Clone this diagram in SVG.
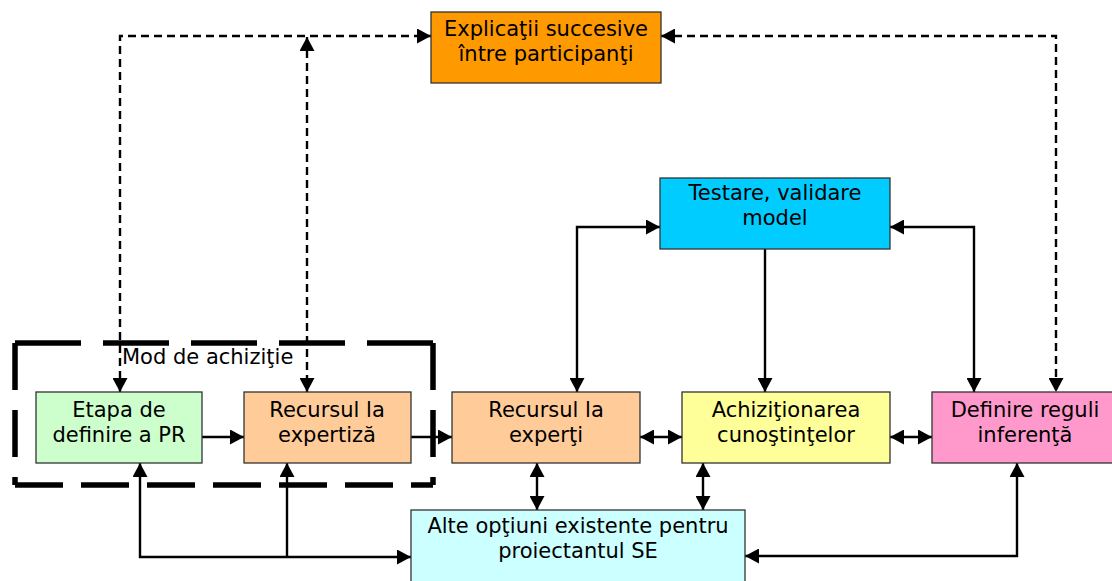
<svg xmlns="http://www.w3.org/2000/svg" width="1112" height="581" viewBox="0 0 1112 581">
  <style>
    .box { stroke: #333333; stroke-width: 1.3; }
    .lbl { font-family: "DejaVu Sans", Verdana, sans-serif; font-size: 21px; fill: #000000; text-anchor: middle; }
    .solid { fill: none; stroke: #000000; stroke-width: 2.4; }
    .dash { fill: none; stroke: #000000; stroke-width: 2.4; stroke-dasharray: 8 5; }
    .frame { fill: none; stroke: #000000; stroke-width: 5.5; }
  </style>
  <defs>
    <marker id="arrow" markerUnits="userSpaceOnUse" markerWidth="15" markerHeight="15" refX="14" refY="7.5" orient="auto-start-reverse">
      <path d="M0,0 L14,7.5 L0,15 z" fill="#000000"/>
    </marker>
  </defs>

  <rect width="1112" height="581" fill="#ffffff"/>

  <!-- acquisition-mode frame -->
  <g id="mod-achizitie">
    <path class="frame" d="M15,343 H433" stroke-dasharray="66 22"/>
    <path class="frame" d="M15,485 H433" stroke-dasharray="48 18"/>
    <path class="frame" d="M15,343 V485" stroke-dasharray="47 20"/>
    <path class="frame" d="M433,343 V485" stroke-dasharray="47 20"/>
    <text class="lbl" x="122" y="364" style="text-anchor:start">Mod de achiziţie</text>
  </g>

  <!-- connectors -->
  <g id="connectors">
    <path class="dash" d="M120,392 V36 H431" marker-start="url(#arrow)" marker-end="url(#arrow)"/>
    <path class="dash" d="M307,37 V392" marker-start="url(#arrow)" marker-end="url(#arrow)"/>
    <path class="dash" d="M661,36 H1056 V392" marker-start="url(#arrow)" marker-end="url(#arrow)"/>

    <path class="solid" d="M577,392 V227 H660" marker-start="url(#arrow)" marker-end="url(#arrow)"/>
    <path class="solid" d="M890,227 H974 V392" marker-start="url(#arrow)" marker-end="url(#arrow)"/>
    <path class="solid" d="M765,249 V392" marker-end="url(#arrow)"/>

    <path class="solid" d="M202,437 H244" marker-end="url(#arrow)"/>
    <path class="solid" d="M411,437 H452" marker-end="url(#arrow)"/>
    <path class="solid" d="M640,437 H682" marker-start="url(#arrow)" marker-end="url(#arrow)"/>
    <path class="solid" d="M890,437 H932" marker-start="url(#arrow)" marker-end="url(#arrow)"/>

    <path class="solid" d="M537,463 V510" marker-start="url(#arrow)" marker-end="url(#arrow)"/>
    <path class="solid" d="M703,463 V510" marker-start="url(#arrow)" marker-end="url(#arrow)"/>

    <path class="solid" d="M1017,463 V556 H745" marker-start="url(#arrow)" marker-end="url(#arrow)"/>
    <path class="solid" d="M140,463 V557 H411" marker-start="url(#arrow)" marker-end="url(#arrow)"/>
    <path class="solid" d="M287,557 V463" marker-end="url(#arrow)"/>
  </g>

  <g id="explicatii">
    <rect class="box" x="431" y="12" width="230" height="71" fill="#FF9900" stroke="#4d3300"/>
    <text class="lbl" x="546" y="36">Explicaţii succesive</text>
    <text class="lbl" x="546" y="61">între participanţi</text>
  </g>

  <g id="testare">
    <rect class="box" x="660" y="178" width="230" height="71" fill="#00CCFF"/>
    <text class="lbl" x="775" y="200">Testare, validare</text>
    <text class="lbl" x="775" y="225">model</text>
  </g>

  <g id="etapa">
    <rect class="box" x="36" y="392" width="166" height="71" fill="#CCFFCC"/>
    <text class="lbl" x="119" y="417">Etapa de</text>
    <text class="lbl" x="119" y="442">definire a PR</text>
  </g>

  <g id="recurs-expertiza">
    <rect class="box" x="244" y="392" width="167" height="71" fill="#FFCC99"/>
    <text class="lbl" x="327" y="417">Recursul la</text>
    <text class="lbl" x="327" y="442">expertiză</text>
  </g>

  <g id="recurs-experti">
    <rect class="box" x="452" y="392" width="188" height="71" fill="#FFCC99"/>
    <text class="lbl" x="546" y="417">Recursul la</text>
    <text class="lbl" x="546" y="442">experţi</text>
  </g>

  <g id="achizitionare">
    <rect class="box" x="682" y="392" width="208" height="71" fill="#FFFF99"/>
    <text class="lbl" x="786" y="417">Achiziţionarea</text>
    <text class="lbl" x="786" y="442">cunoştinţelor</text>
  </g>

  <g id="definire-reguli">
    <rect class="box" x="932" y="392" width="190" height="71" fill="#FF99CC"/>
    <text class="lbl" x="1025" y="417">Definire reguli</text>
    <text class="lbl" x="1025" y="442">inferenţă</text>
  </g>

  <g id="alte-optiuni">
    <rect class="box" x="411" y="510" width="334" height="80" fill="#CCFFFF"/>
    <text class="lbl" x="578" y="533">Alte opţiuni existente pentru</text>
    <text class="lbl" x="578" y="558">proiectantul SE</text>
  </g>
</svg>
